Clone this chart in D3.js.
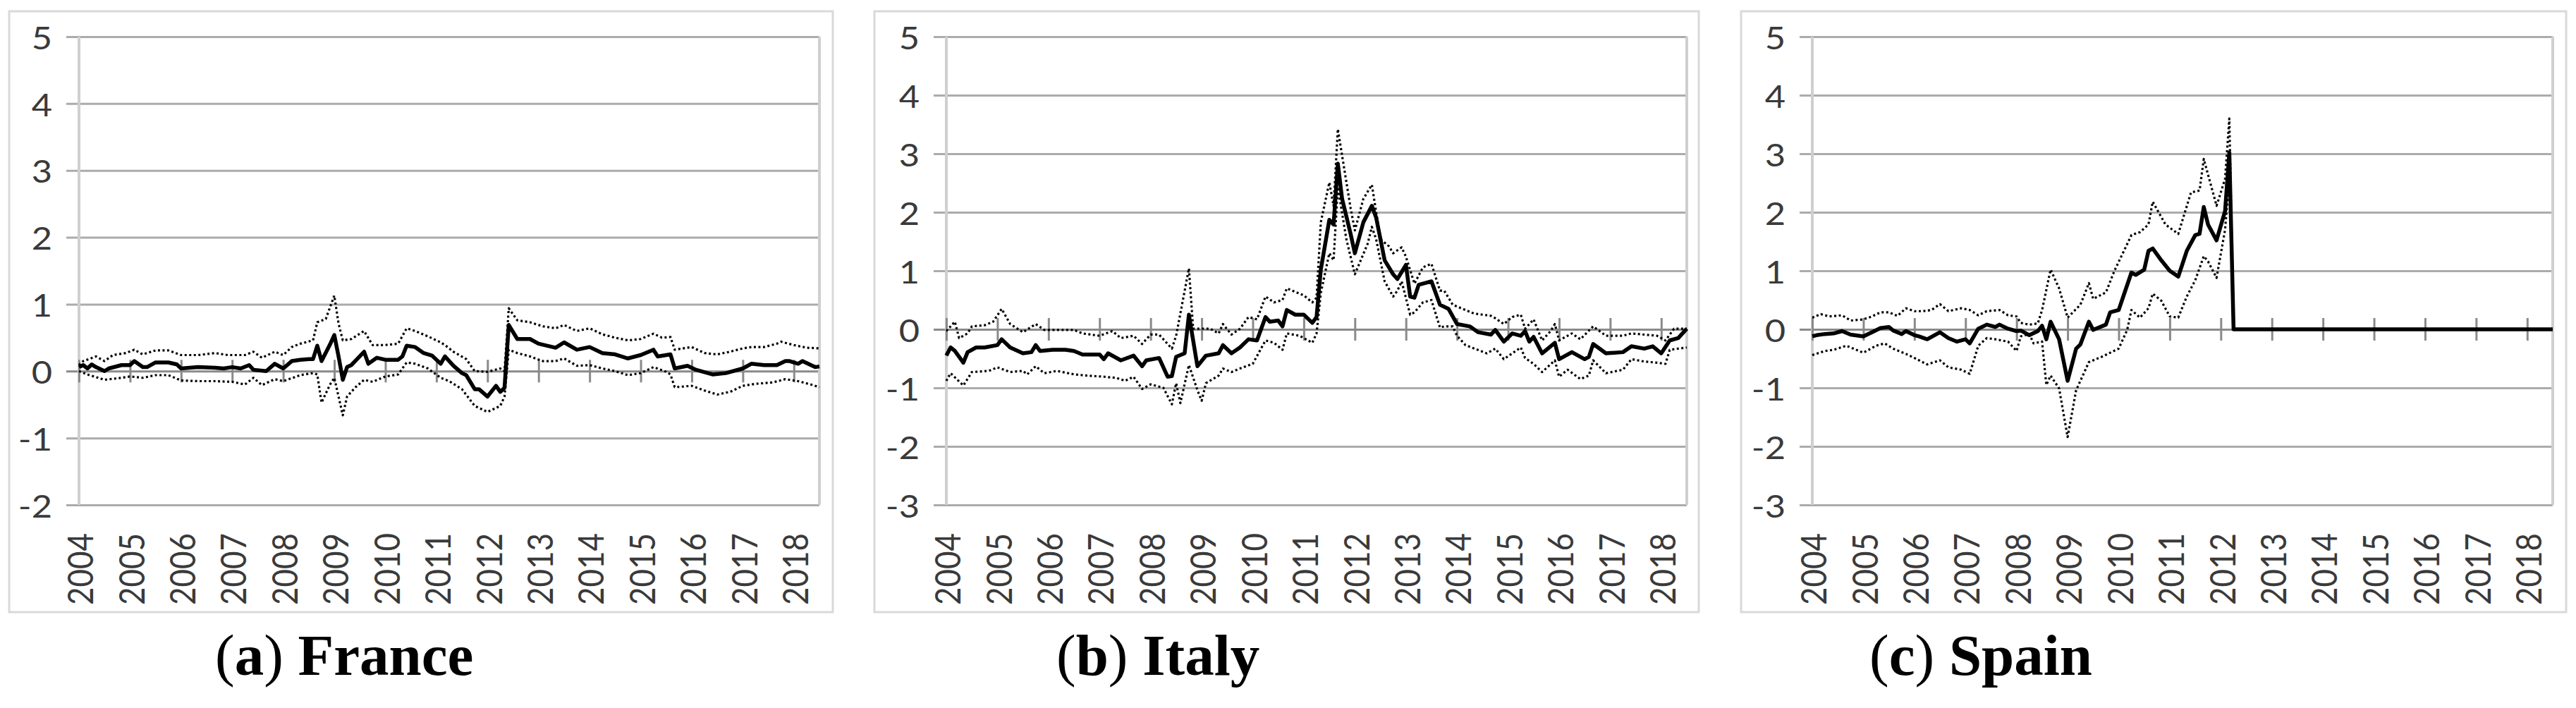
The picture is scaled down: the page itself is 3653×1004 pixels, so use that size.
<!DOCTYPE html>
<html><head><meta charset="utf-8">
<script src="https://cdn.jsdelivr.net/npm/d3@7"></script>
<style>body{margin:0;background:#fff;} svg{display:block;}</style>
</head><body>
<script>
// ---- DATA (month index since Jan 2004, value) ----
const years = ["2004","2005","2006","2007","2008","2009","2010","2011","2012","2013","2014","2015","2016","2017","2018"];
const yTicksFrance = [-2,-1,0,1,2,3,4,5];
const yTicksItalySpain = [-3,-2,-1,0,1,2,3,4,5];
const captionLetters = ["a","b","c"];
const countries = ["France","Italy","Spain"];

const franceMain = [[0,0.06],[1,0.09],[2,0.04],[3,0.10],[4,0.06],[6,0.0],[7,0.04],[10,0.09],[12,0.09],[13,0.15],[15,0.06],[16,0.06],[18,0.13],[21,0.13],[23,0.10],[24,0.04],[28,0.06],[32,0.05],[34,0.04],[36,0.06],[38,0.04],[40,0.09],[41,0.02],[44,0.0],[46,0.11],[48,0.04],[50,0.15],[52,0.17],[54,0.18],[55,0.18],[56,0.38],[57,0.15],[59,0.40],[60,0.54],[61,0.22],[62,-0.13],[63,0.06],[64,0.09],[67,0.29],[68,0.11],[70,0.20],[72,0.17],[75,0.17],[76,0.22],[77,0.38],[79,0.36],[81,0.27],[83,0.23],[85,0.11],[86,0.22],[88,0.08],[90,-0.03],[91,-0.06],[93,-0.27],[94,-0.27],[96,-0.38],[98,-0.22],[99,-0.31],[100,-0.25],[101,0.69],[103,0.48],[106,0.48],[108,0.41],[112,0.35],[114,0.43],[117,0.32],[120,0.36],[123,0.27],[126,0.25],[129,0.19],[132,0.24],[135,0.32],[136,0.22],[139,0.25],[140,0.04],[143,0.08],[145,0.02],[149,-0.05],[152,-0.03],[156,0.04],[158,0.11],[161,0.09],[164,0.09],[166,0.15],[167,0.15],[169,0.11],[170,0.15],[173,0.06],[174,0.07]];
const franceUpper = [[0,0.09],[1,0.15],[4,0.22],[6,0.15],[8,0.24],[11,0.27],[13,0.32],[15,0.25],[18,0.31],[21,0.31],[24,0.24],[28,0.24],[32,0.27],[35,0.24],[39,0.24],[41,0.29],[43,0.20],[46,0.29],[48,0.24],[50,0.36],[52,0.41],[55,0.46],[56,0.73],[58,0.78],[60,1.13],[61,0.71],[62,0.46],[64,0.48],[67,0.60],[69,0.39],[72,0.39],[75,0.41],[77,0.64],[79,0.60],[82,0.52],[85,0.43],[86,0.39],[88,0.29],[91,0.18],[93,0.0],[96,-0.01],[99,0.04],[100,0.0],[101,0.94],[103,0.76],[106,0.73],[109,0.67],[112,0.64],[114,0.69],[117,0.60],[120,0.64],[123,0.55],[126,0.50],[129,0.46],[132,0.48],[135,0.56],[137,0.50],[139,0.51],[140,0.32],[144,0.36],[147,0.27],[150,0.25],[153,0.29],[156,0.34],[158,0.36],[161,0.36],[164,0.41],[165,0.44],[168,0.39],[171,0.35],[174,0.34]];
const franceLower = [[0,0.0],[2,-0.05],[4,-0.09],[6,-0.13],[10,-0.10],[12,-0.08],[15,-0.10],[18,-0.06],[21,-0.06],[24,-0.14],[28,-0.15],[32,-0.15],[36,-0.16],[39,-0.20],[41,-0.10],[43,-0.21],[46,-0.12],[48,-0.15],[52,-0.06],[55,-0.03],[56,-0.05],[57,-0.47],[59,-0.20],[60,-0.10],[62,-0.66],[63,-0.38],[65,-0.24],[67,-0.13],[69,-0.16],[72,-0.08],[75,-0.05],[77,0.13],[79,0.11],[82,0.04],[85,-0.10],[87,-0.15],[90,-0.27],[93,-0.52],[96,-0.61],[99,-0.52],[100,-0.38],[101,0.32],[103,0.27],[106,0.22],[109,0.15],[112,0.15],[114,0.19],[117,0.08],[120,0.09],[123,0.04],[126,0.0],[129,-0.06],[132,-0.03],[135,0.06],[138,-0.01],[139,-0.05],[140,-0.24],[144,-0.22],[147,-0.29],[150,-0.35],[153,-0.31],[156,-0.22],[159,-0.19],[163,-0.17],[166,-0.12],[169,-0.15],[172,-0.20],[174,-0.24]];

const italyMain = [[0,-0.45],[1,-0.31],[2,-0.37],[4,-0.57],[5,-0.39],[7,-0.31],[9,-0.31],[12,-0.27],[13,-0.17],[15,-0.31],[18,-0.41],[20,-0.39],[21,-0.27],[22,-0.37],[25,-0.35],[28,-0.35],[30,-0.37],[32,-0.43],[36,-0.43],[37,-0.51],[38,-0.41],[41,-0.53],[44,-0.45],[46,-0.63],[47,-0.53],[50,-0.49],[52,-0.81],[53,-0.80],[54,-0.47],[56,-0.41],[57,0.25],[59,-0.63],[61,-0.45],[64,-0.41],[65,-0.27],[67,-0.41],[69,-0.31],[71,-0.17],[73,-0.19],[75,0.21],[76,0.13],[78,0.15],[79,0.05],[80,0.33],[82,0.25],[84,0.25],[86,0.11],[87,0.21],[88,1.02],[90,1.87],[91,1.79],[92,2.83],[93,2.23],[95,1.63],[96,1.30],[98,1.83],[100,2.11],[101,1.91],[103,1.18],[105,0.94],[106,0.86],[108,1.10],[109,0.56],[110,0.54],[111,0.76],[114,0.82],[116,0.42],[118,0.35],[120,0.09],[123,0.05],[125,-0.05],[128,-0.09],[129,-0.01],[131,-0.21],[133,-0.07],[135,-0.11],[136,-0.03],[137,-0.21],[138,-0.13],[140,-0.41],[143,-0.23],[144,-0.51],[147,-0.39],[150,-0.51],[151,-0.47],[152,-0.25],[155,-0.41],[159,-0.39],[161,-0.29],[164,-0.33],[166,-0.29],[168,-0.41],[170,-0.19],[172,-0.15],[174,0.01]];
const italyUpper = [[0,-0.03],[2,0.13],[3,-0.15],[5,-0.07],[6,0.05],[9,0.07],[11,0.13],[13,0.35],[15,0.09],[18,-0.05],[21,0.09],[23,-0.01],[26,-0.01],[30,-0.01],[32,-0.07],[36,-0.11],[39,-0.03],[41,-0.15],[44,-0.11],[46,-0.25],[48,-0.09],[50,-0.09],[53,-0.33],[54,-0.11],[57,1.04],[58,0.01],[60,0.01],[62,0.01],[64,-0.07],[65,0.09],[67,-0.09],[69,0.01],[71,0.21],[73,0.17],[75,0.56],[77,0.46],[79,0.50],[80,0.70],[84,0.58],[86,0.46],[87,0.54],[88,1.83],[90,2.51],[91,2.11],[92,3.42],[95,2.07],[96,1.69],[98,2.23],[100,2.47],[102,1.54],[104,1.42],[105,1.30],[107,1.40],[108,1.24],[110,0.78],[112,1.06],[114,1.12],[116,0.66],[117,0.66],[119,0.42],[122,0.33],[124,0.27],[128,0.23],[129,0.19],[131,0.09],[133,0.21],[135,0.25],[136,0.01],[138,0.17],[140,-0.19],[142,-0.03],[143,0.09],[144,-0.19],[147,-0.07],[149,-0.17],[152,0.05],[155,-0.11],[159,-0.11],[161,-0.07],[164,-0.09],[167,-0.11],[169,-0.19],[171,0.01],[174,0.01]];
const italyLower = [[0,-0.88],[1,-0.75],[4,-0.96],[6,-0.73],[10,-0.71],[12,-0.65],[15,-0.73],[18,-0.71],[19,-0.77],[21,-0.63],[23,-0.75],[26,-0.71],[30,-0.77],[33,-0.79],[37,-0.81],[40,-0.83],[42,-0.88],[44,-0.81],[46,-1.02],[48,-0.94],[51,-1.0],[53,-1.28],[54,-0.92],[55,-1.26],[57,-0.61],[59,-1.04],[60,-1.22],[61,-0.92],[64,-0.79],[65,-0.67],[67,-0.73],[69,-0.67],[72,-0.59],[75,-0.19],[77,-0.23],[79,-0.35],[80,-0.07],[83,-0.11],[86,-0.23],[87,-0.07],[88,0.62],[90,1.30],[91,1.18],[92,2.43],[94,1.54],[96,0.94],[99,1.46],[100,1.75],[101,1.54],[103,0.82],[105,0.56],[106,0.66],[107,0.82],[109,0.25],[110,0.29],[112,0.46],[114,0.50],[116,0.03],[117,0.05],[119,0.05],[120,-0.11],[122,-0.27],[127,-0.41],[129,-0.33],[131,-0.51],[133,-0.41],[135,-0.31],[136,-0.49],[138,-0.59],[140,-0.73],[143,-0.53],[144,-0.81],[146,-0.69],[149,-0.85],[151,-0.79],[152,-0.53],[155,-0.75],[159,-0.69],[161,-0.51],[164,-0.55],[167,-0.57],[169,-0.59],[170,-0.35],[174,-0.31]];

const spainMain = [[0,-0.12],[1,-0.10],[3,-0.08],[5,-0.07],[7,-0.03],[9,-0.09],[12,-0.12],[14,-0.05],[16,0.02],[18,0.04],[19,-0.02],[21,-0.08],[22,-0.03],[24,-0.10],[25,-0.12],[27,-0.17],[30,-0.05],[32,-0.15],[34,-0.21],[36,-0.17],[37,-0.24],[39,0.01],[41,0.08],[43,0.04],[44,0.08],[46,0.01],[48,-0.03],[49,-0.02],[51,-0.10],[53,-0.03],[54,0.06],[55,-0.17],[56,0.13],[58,-0.17],[60,-0.88],[62,-0.33],[63,-0.26],[65,0.13],[66,-0.01],[69,0.08],[70,0.29],[72,0.33],[75,0.97],[76,0.93],[78,1.02],[79,1.34],[80,1.38],[82,1.18],[84,1.00],[86,0.90],[88,1.34],[90,1.61],[91,1.63],[92,2.09],[93,1.79],[95,1.52],[97,2.02],[98,3.02],[99,0],[174,0]];
const spainUpper = [[0,0.20],[2,0.26],[4,0.22],[7,0.24],[9,0.15],[12,0.17],[14,0.22],[16,0.29],[18,0.29],[20,0.23],[22,0.36],[24,0.31],[26,0.31],[28,0.33],[30,0.43],[32,0.31],[35,0.36],[37,0.33],[39,0.24],[41,0.31],[44,0.33],[46,0.24],[48,0.22],[49,0.11],[51,0.08],[53,0.10],[54,0.33],[56,1.02],[58,0.70],[60,0.20],[63,0.42],[65,0.79],[66,0.52],[69,0.63],[71,1.00],[75,1.61],[77,1.66],[79,1.79],[80,2.18],[83,1.79],[86,1.63],[89,2.34],[91,2.37],[92,2.91],[95,2.11],[97,2.57],[98,3.60],[99,0],[174,0]];
const spainLower = [[0,-0.44],[3,-0.37],[5,-0.35],[8,-0.28],[12,-0.40],[15,-0.28],[17,-0.24],[19,-0.33],[22,-0.42],[24,-0.49],[27,-0.60],[30,-0.53],[32,-0.65],[35,-0.69],[37,-0.76],[39,-0.28],[41,-0.15],[43,-0.17],[46,-0.21],[48,-0.37],[49,-0.12],[51,-0.08],[52,-0.24],[54,-0.21],[55,-0.95],[56,-0.79],[58,-1.01],[60,-1.84],[62,-1.04],[65,-0.56],[68,-0.47],[72,-0.33],[74,-0.01],[75,0.33],[77,0.20],[79,0.36],[80,0.61],[82,0.49],[84,0.22],[86,0.20],[88,0.56],[90,0.84],[92,1.25],[93,1.16],[95,0.88],[97,1.70],[98,2.60],[99,0],[174,0]];

// ---- LAYOUT ----
const W = 3653, H = 1004;
const plotTop = 52, plotBottom = 716, plotWidth = 1050, lastMonth = 174;
const panels = [
  {left:112,  box:[13,16,1181,868],   capX:305,  ticks:yTicksFrance,     series:[franceUpper,franceLower,franceMain]},
  {left:1342, box:[1240,16,2409,868], capX:1498, ticks:yTicksItalySpain, series:[italyUpper,italyLower,italyMain]},
  {left:2570, box:[2469,16,3639,868], capX:2651, ticks:yTicksItalySpain, series:[spainUpper,spainLower,spainMain]}
];
const labelFont = "Lato, 'Open Sans', sans-serif";
const labelSize = 44;

const svg = d3.select("body").append("svg").attr("width", W).attr("height", H);
svg.append("rect").attr("width", W).attr("height", H).attr("fill", "#fff");

panels.forEach((p, pi) => {
  const g = svg.append("g");
  const x = d3.scaleLinear().domain([0, lastMonth]).range([p.left, p.left + plotWidth]);
  const y = d3.scaleLinear().domain(d3.extent(p.ticks)).range([plotBottom, plotTop]);
  const right = p.left + plotWidth;

  // panel border
  g.append("rect").attr("x", p.box[0]).attr("y", p.box[1])
    .attr("width", p.box[2]-p.box[0]).attr("height", p.box[3]-p.box[1])
    .attr("fill", "none").attr("stroke", "#d9d9d9").attr("stroke-width", 3);

  // y axis with gridlines
  const ya = g.append("g").attr("transform", `translate(${p.left - 18},0)`)
    .call(d3.axisLeft(y).tickValues(p.ticks).tickSize(-(plotWidth + 18)).tickFormat(d => String(d)));
  ya.select(".domain").remove();
  ya.selectAll(".tick line").attr("stroke", d => d === 0 ? "#8a8a8a" : "#ababab").attr("stroke-width", 3);
  ya.selectAll(".tick text").attr("x", null).attr("dy", null)
    .attr("transform", "translate(-20,0) scale(1.15,1)")
    .attr("dominant-baseline", "central")
    .attr("font-family", labelFont).attr("font-size", labelSize).attr("fill", "#3a3a3a").attr("text-anchor", "end");

  // left axis and right border of plot
  g.append("line").attr("x1", p.left).attr("x2", p.left).attr("y1", plotTop).attr("y2", plotBottom)
    .attr("stroke", "#cfcfcf").attr("stroke-width", 4);
  g.append("line").attr("x1", right).attr("x2", right).attr("y1", plotTop).attr("y2", plotBottom)
    .attr("stroke", "#cfcfcf").attr("stroke-width", 4);

  // zero-line category ticks
  const tickMonths = d3.range(0, years.length * 12, 12);
  const xa = g.append("g").attr("transform", `translate(0,${y(0) - 16})`)
    .call(d3.axisBottom(x).tickValues(tickMonths).tickSize(32).tickFormat(""));
  xa.select(".domain").remove();
  xa.selectAll(".tick line").attr("stroke", "#8a8a8a").attr("stroke-width", 3);

  // year labels
  const xl = g.append("g").attr("transform", `translate(0,${plotBottom + 40})`)
    .call(d3.axisBottom(x).tickValues(tickMonths).tickSize(0).tickFormat((d, i) => years[i]));
  xl.select(".domain").remove();
  xl.selectAll(".tick text").attr("y", null).attr("dy", null)
    .attr("transform", "scale(1.15,1) rotate(-90)")
    .attr("text-anchor", "end").attr("dominant-baseline", "central")
    .attr("font-family", labelFont).attr("font-size", labelSize).attr("fill", "#3a3a3a");

  // data lines
  const line = d3.line().x(d => x(d[0])).y(d => y(d[1]));
  p.series.forEach((s, si) => {
    const main = si === 2;
    g.append("path").datum(s).attr("d", line).attr("fill", "none")
      .attr("stroke", "#000")
      .attr("stroke-width", main ? 5.5 : 3.2)
      .attr("stroke-dasharray", main ? null : "3,3.5")
      .attr("stroke-linejoin", "round");
  });

  // caption
  const cap = svg.append("text").attr("x", p.capX).attr("y", 957)
    .attr("font-family", "'Liberation Serif', 'DejaVu Serif', serif").attr("font-size", 83).attr("fill", "#000");
  cap.append("tspan").text("(");
  cap.append("tspan").attr("font-weight", "bold").text(captionLetters[pi]);
  cap.append("tspan").text(")");
  cap.append("tspan").attr("font-weight", "bold").text(" " + countries[pi]);
});
</script>
</body></html>
